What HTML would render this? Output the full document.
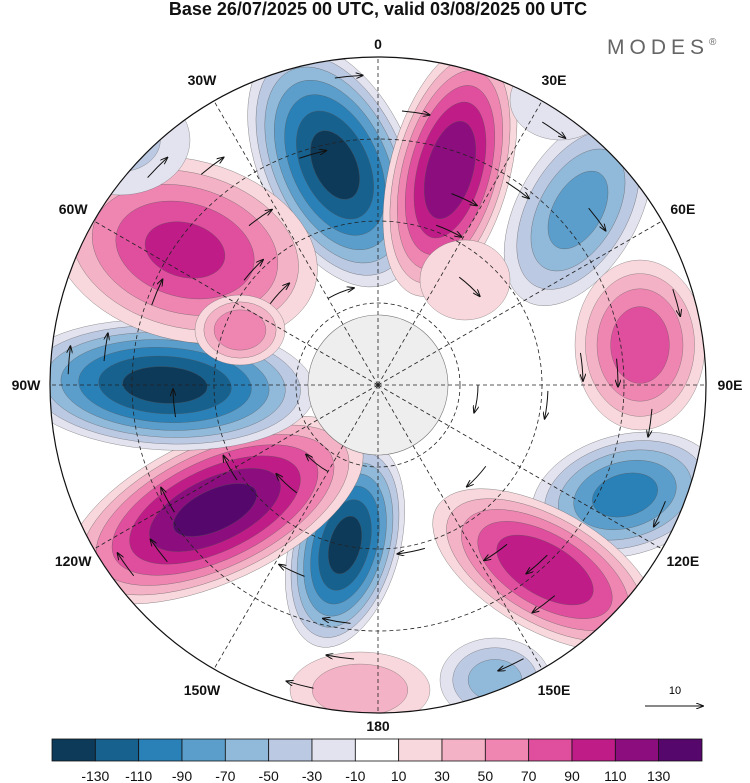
<!DOCTYPE html>
<html><head><meta charset="utf-8">
<style>
body{margin:0;background:#fff;font-family:"Liberation Sans",sans-serif;}
#wrap{position:relative;width:750px;height:783px;overflow:hidden;}
</style></head>
<body>
<div id="wrap">
<svg id="svg" width="750" height="783" viewBox="0 0 750 783">
<defs><clipPath id="disc"><circle cx="378" cy="385" r="328"/></clipPath>
<marker id="ah" markerWidth="8" markerHeight="6" refX="7" refY="3" orient="auto"><path d="M0,0 L8,3 L0,6" fill="none" stroke="#111" stroke-width="1"/></marker></defs>
<text x="378" y="15" text-anchor="middle" font-size="18" font-weight="bold" fill="#111">Base 26/07/2025 00 UTC, valid 03/08/2025 00 UTC</text>
<text x="607" y="54" font-size="21" fill="#666" letter-spacing="5">MODES<tspan font-size="10" dy="-9">®</tspan></text>
<circle cx="378" cy="385" r="328" fill="#fff"/>
<g id="field" clip-path="url(#disc)"></g>
<g id="grat" clip-path="url(#disc)"></g>
<circle cx="378" cy="385" r="328" fill="none" stroke="#111" stroke-width="1.2"/>
<g id="labels" font-size="14" font-weight="bold" fill="#111" text-anchor="middle"></g>
<g id="cbar"></g>
<text x="675" y="694" font-size="11" text-anchor="middle">10</text>
<line x1="645" y1="706" x2="703" y2="706" stroke="#111" marker-end="url(#ah)"/>
</svg>
</div>
<script>
const levels=[-130,-110,-90,-70,-50,-30,-10,10,30,50,70,90,110,130];
const binColors=["#0e3a5a","#17618f","#2a81b8","#5b9ecb","#91b9d9","#bcc9e2","#e3e3f0","#ffffff","#f8d8dd","#f4b2c6","#ef86b2","#df4f9d","#c01c88","#8b0d7e","#56076c"];
// anomaly blobs (centre x/y in px, radii, rotation, peak value)
const blobX=[335,450,578,640,625,545,495,360,345,215,165,185,240,120,465,420,560];
const blobY=[165,170,210,345,495,570,680,690,545,510,385,250,330,140,280,20,100];
const blobRX=[75,60,60,65,95,125,55,70,55,160,150,135,45,70,45,60,50];
const blobRY=[130,130,105,85,60,60,42,38,105,72,65,90,35,55,40,40,40];
const blobRot=[-25,15,30,0,-15,30,0,0,15,-25,3,15,0,0,0,0,0];
const blobVal=[-140,130,-80,85,-100,110,-60,45,-140,140,-140,95,70,-35,30,30,-25];

const NS="http://www.w3.org/2000/svg";
function mk(t,a,p){const e=document.createElementNS(NS,t);for(const k in a)e.setAttribute(k,a[k]);p.appendChild(e);return e;}
function colorFor(v){let i=0;while(i<levels.length&&v>levels[i])i++;return binColors[i];}

const field=document.getElementById('field');
for(let b=0;b<blobX.length;b++){
  const V=Math.abs(blobVal[b]),s=Math.sign(blobVal[b]);
  const g=mk('g',{transform:`translate(${blobX[b]},${blobY[b]}) rotate(${blobRot[b]})`},field);
  
  
  for(let L=10;L<V;L+=20){
    const f=Math.pow(1-(L-10)/V,0.65);
    const e=mk('ellipse',{cx:0,cy:0,rx:blobRX[b]*f,ry:blobRY[b]*f,fill:colorFor(s*(L+1)),stroke:'#555','stroke-width':0.3},g);
    
    
  }
}
const pole=mk('circle',{cx:378,cy:385,r:70,fill:'#eeeeee',stroke:'#777','stroke-width':0.6},field);



const grat=document.getElementById('grat');
const streamR=[100,135,170,205,240,275,310];
for(let i=0;i<streamR.length;i++){
  const n=3+i;
  for(let k=0;k<n;k++){
    const a0=(i*37+k*360/n)*Math.PI/180,a1=a0+28/streamR[i];
    const r=streamR[i];
    const p=mk('path',{d:`M${378+r*Math.cos(a0)},${385+r*Math.sin(a0)} A${r},${r} 0 0 1 ${378+r*Math.cos(a1)},${385+r*Math.sin(a1)}`,fill:'none',stroke:'#111','stroke-width':1,'marker-end':'url(#ah)'},grat);
    
    
  }
}
const latR=[82,164,246];
latR.forEach(r=>{const c=mk('circle',{cx:378,cy:385,r:r,fill:'none',stroke:'#222','stroke-width':0.8,'stroke-dasharray':'4 3'},grat);

});
for(let a=0;a<360;a+=30){const t=a*Math.PI/180;
const l=mk('line',{x1:378,y1:385,x2:378+330*Math.sin(t),y2:385-330*Math.cos(t),stroke:'#222','stroke-width':0.8,'stroke-dasharray':'4 3'},grat);

}

const lonLabels=["0","30E","60E","90E","120E","150E","180","150W","120W","90W","60W","30W"];
const lg=document.getElementById('labels');
lonLabels.forEach((s,i)=>{const t=i*30*Math.PI/180,R=(i%6===0)?341:352;
const e=mk('text',{x:378+R*Math.sin(t),y:385-R*Math.cos(t)+5},lg);e.textContent=s;

});

const cb=document.getElementById('cbar');
const x0=52,w=650/binColors.length;
binColors.forEach((c,i)=>{const r=mk('rect',{x:x0+i*w,y:739,width:w,height:22,fill:c,stroke:'#111','stroke-width':0.8},cb);

});
levels.forEach((v,i)=>{const t=mk('text',{x:x0+(i+1)*w,y:781,'font-size':14,'text-anchor':'middle',fill:'#111'},cb);t.textContent=v;

});
</script>
</body></html>
